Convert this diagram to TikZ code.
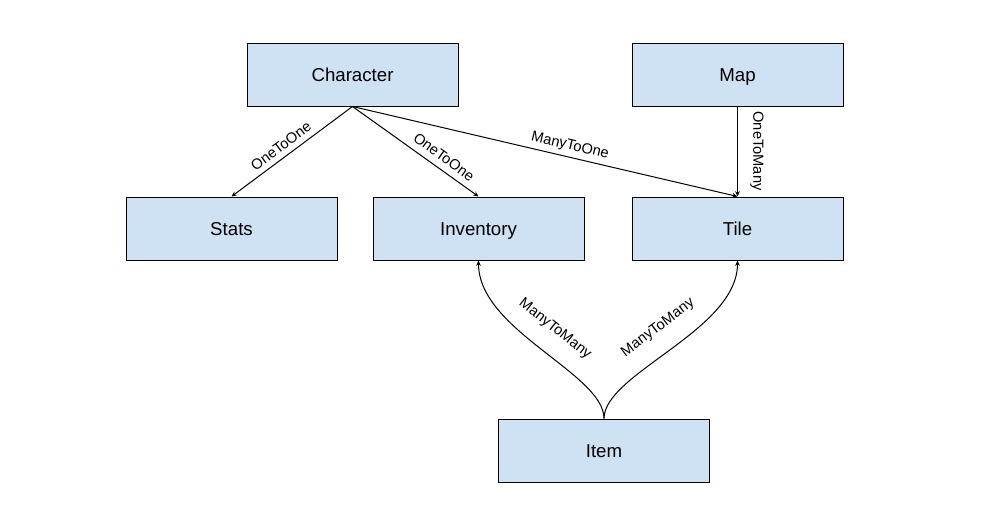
\documentclass[tikz,border=0pt]{standalone}
\usepackage{fontspec}
\setmainfont{Liberation Sans}
\usetikzlibrary{arrows.meta}
\definecolor{boxfill}{HTML}{CFE2F3}
\tikzset{
  entity/.style={draw=black, line width=0.75pt, fill=boxfill, minimum width=158.25pt, minimum height=47.25pt, inner sep=0pt, text height=11.5pt, text depth=1.5pt, font=\fontsize{14pt}{16pt}\selectfont},
  rel/.style={draw=black, line width=0.75pt, -{Stealth[length=4pt,width=3.5pt]}},
  lbl/.style={font=\fontsize{11pt}{13pt}\selectfont, inner sep=1pt}
}
\begin{document}
\begin{tikzpicture}[x=0.75pt,y=-0.75pt]
\useasboundingbox (0,0) rectangle (988,515);
\node[entity] (char) at (352.5,74.5) {Character};
\node[entity] (map) at (737.5,74.5) {Map};
\node[entity] (stats) at (231.5,228.5) {Stats};
\node[entity] (inv) at (478.5,228.5) {Inventory};
\node[entity] (tile) at (737.5,228.5) {Tile};
\node[entity] (item) at (604,450.5) {Item};

\draw[rel] (char.south) -- (stats.north);
\draw[rel] (char.south) -- (inv.north);
\draw[rel] (char.south) -- (tile.north);
\draw[rel] (map.south) -- (tile.north);
\draw[rel] (item.north) .. controls +(0,-45) and +(0,70) .. (inv.south);
\draw[rel] (item.north) .. controls +(0,-45) and +(0,70) .. (tile.south);

\node[lbl, rotate=37] (l1) at (281,146) {OneToOne};
\node[lbl, rotate=-36] (l2) at (444,157) {OneToOne};
\node[lbl, rotate=-13.5] (l3) at (570,146) {ManyToOne};
\node[lbl, rotate=-90] (l4) at (757,151) {OneToMany};
\node[lbl, rotate=-38] (l5) at (555,329) {ManyToMany};
\node[lbl, rotate=37] (l6) at (658,328) {ManyToMany};
\end{tikzpicture}
\end{document}
